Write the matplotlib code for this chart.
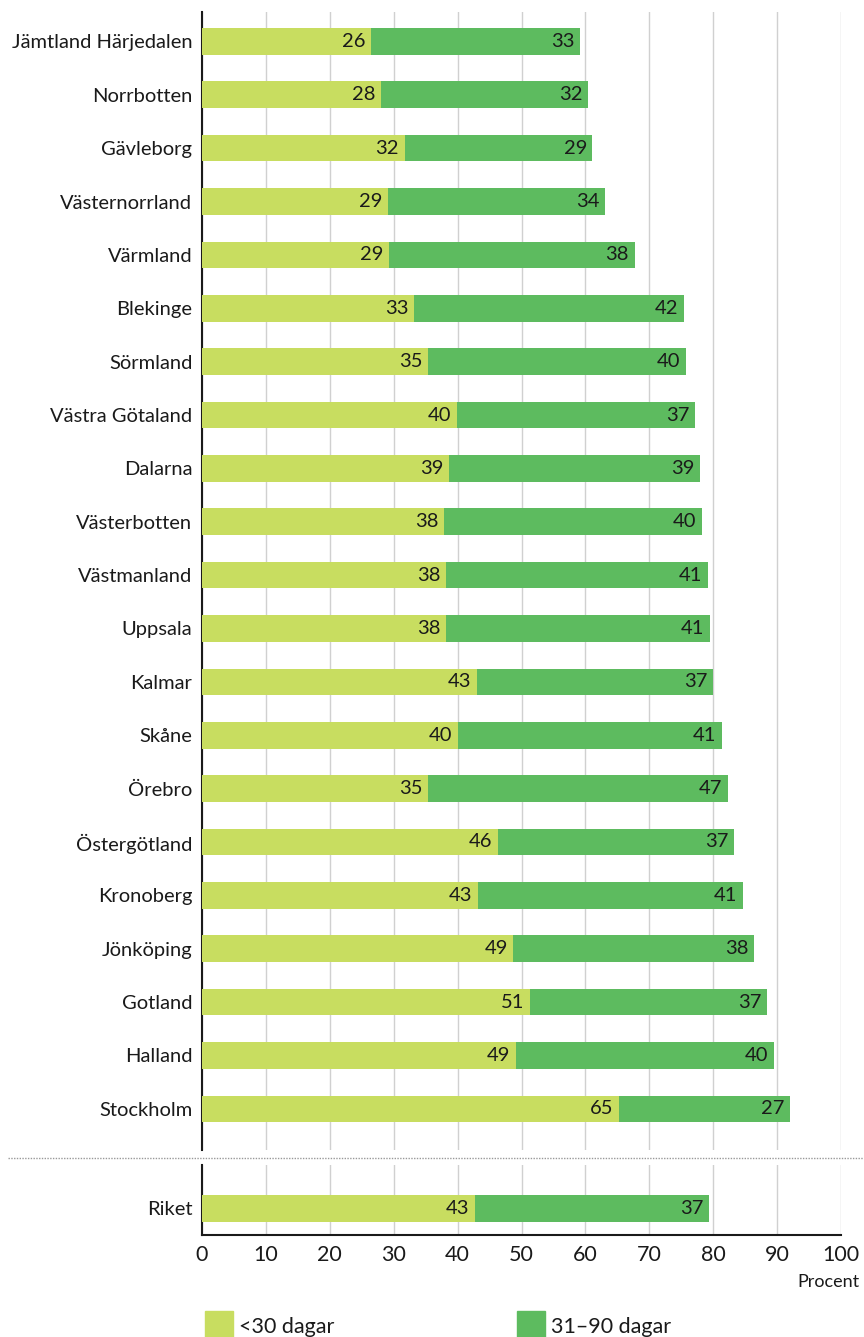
import matplotlib.pyplot as plt
from matplotlib.patches import Rectangle
from matplotlib.lines import Line2D

plt.rcParams['font.family'] = ['Lato', 'DejaVu Sans']

regions = ['Jämtland Härjedalen', 'Norrbotten', 'Gävleborg', 'Västernorrland',
           'Värmland', 'Blekinge', 'Sörmland', 'Västra Götaland', 'Dalarna',
           'Västerbotten', 'Västmanland', 'Uppsala', 'Kalmar', 'Skåne', 'Örebro',
           'Östergötland', 'Kronoberg', 'Jönköping', 'Gotland', 'Halland', 'Stockholm']
under30 = [26.4, 28.0, 31.7, 29.1, 29.3, 33.2, 35.4, 39.9, 38.7, 37.9, 38.2,
           38.2, 43.0, 40.1, 35.4, 46.3, 43.2, 48.7, 51.3, 49.1, 65.3]
d31_90 = [32.8, 32.4, 29.4, 34.0, 38.4, 42.2, 40.3, 37.3, 39.2, 40.3, 41.0,
          41.3, 37.0, 41.3, 46.9, 37.0, 41.4, 37.7, 37.1, 40.4, 26.7]
riket_label = ['Riket']
riket_under30 = [42.7]
riket_d31_90 = [36.6]
series_names = ['<30 dagar', '31–90 dagar']

c_light = '#c8dd60'
c_dark = '#5dbb5f'
fs = 14.5

fig = plt.figure(figsize=(8.64, 13.37), dpi=100)
ax = fig.add_axes([0.2338, 0.1399, 0.7396, 0.8511])
ax2 = fig.add_axes([0.2338, 0.0763, 0.7396, 0.0524])


def draw(a, names, v1, v2):
    y = range(len(names))
    b1 = a.barh(y, v1, height=0.5, color=c_light, zorder=3)
    b2 = a.barh(y, v2, left=v1, height=0.5, color=c_dark, zorder=3)
    for bars in (b1, b2):
        for r in bars:
            a.annotate(f'{r.get_width():.0f}', (r.get_x() + r.get_width(), r.get_y() + r.get_height() / 2),
                       xytext=(-4, 0), textcoords='offset points', ha='right', va='center',
                       fontsize=fs, color='#1a1a1a', zorder=4)
    a.set_yticks(list(y))
    a.set_yticklabels(names, fontsize=fs)
    a.set_xlim(0, 100)
    a.set_xticks(range(0, 101, 10))
    a.grid(axis='x', color='#d0d0d0', linewidth=1, zorder=0)
    a.tick_params(length=0, pad=7, labelsize=fs, colors='#1a1a1a')
    for s in ('top', 'right'):
        a.spines[s].set_visible(False)
    a.spines['left'].set_linewidth(1.5)
    a.spines['left'].set_color('#1a1a1a')


draw(ax, regions, under30, d31_90)
ax.set_ylim(20.77, -0.55)
ax.spines['bottom'].set_visible(False)
ax.tick_params(axis='x', labelbottom=False)

draw(ax2, riket_label, riket_under30, riket_d31_90)
ax2.set_ylim(0.5, -0.8)
ax2.spines['bottom'].set_linewidth(1.5)
ax2.spines['bottom'].set_color('#1a1a1a')
ax2.set_xticklabels([str(t) for t in range(0, 101, 10)], fontsize=fs + 1)

# dotted separator
fig.add_artist(Line2D([0.009, 1.0], [0.134, 0.134], transform=fig.transFigure,
                      color='#999999', linestyle=(0, (1, 1)), linewidth=1))

fig.text(0.995, 1 - 1282 / 1337, 'Procent', ha='right', va='center', fontsize=fs - 1.5, color='#1a1a1a')

# legend
W, H = 864, 1337
for x0, name, col in [(205, series_names[0], c_light), (517, series_names[1], c_dark)]:
    fig.add_artist(Rectangle((x0 / W, 0), 28 / W, 26 / H, transform=fig.transFigure,
                             color=col))
    fig.text((x0 + 34) / W, 1 - 1327 / H, name, ha='left', va='center', fontsize=fs + 1, color='#1a1a1a')

fig.savefig('out.png', dpi=100)
